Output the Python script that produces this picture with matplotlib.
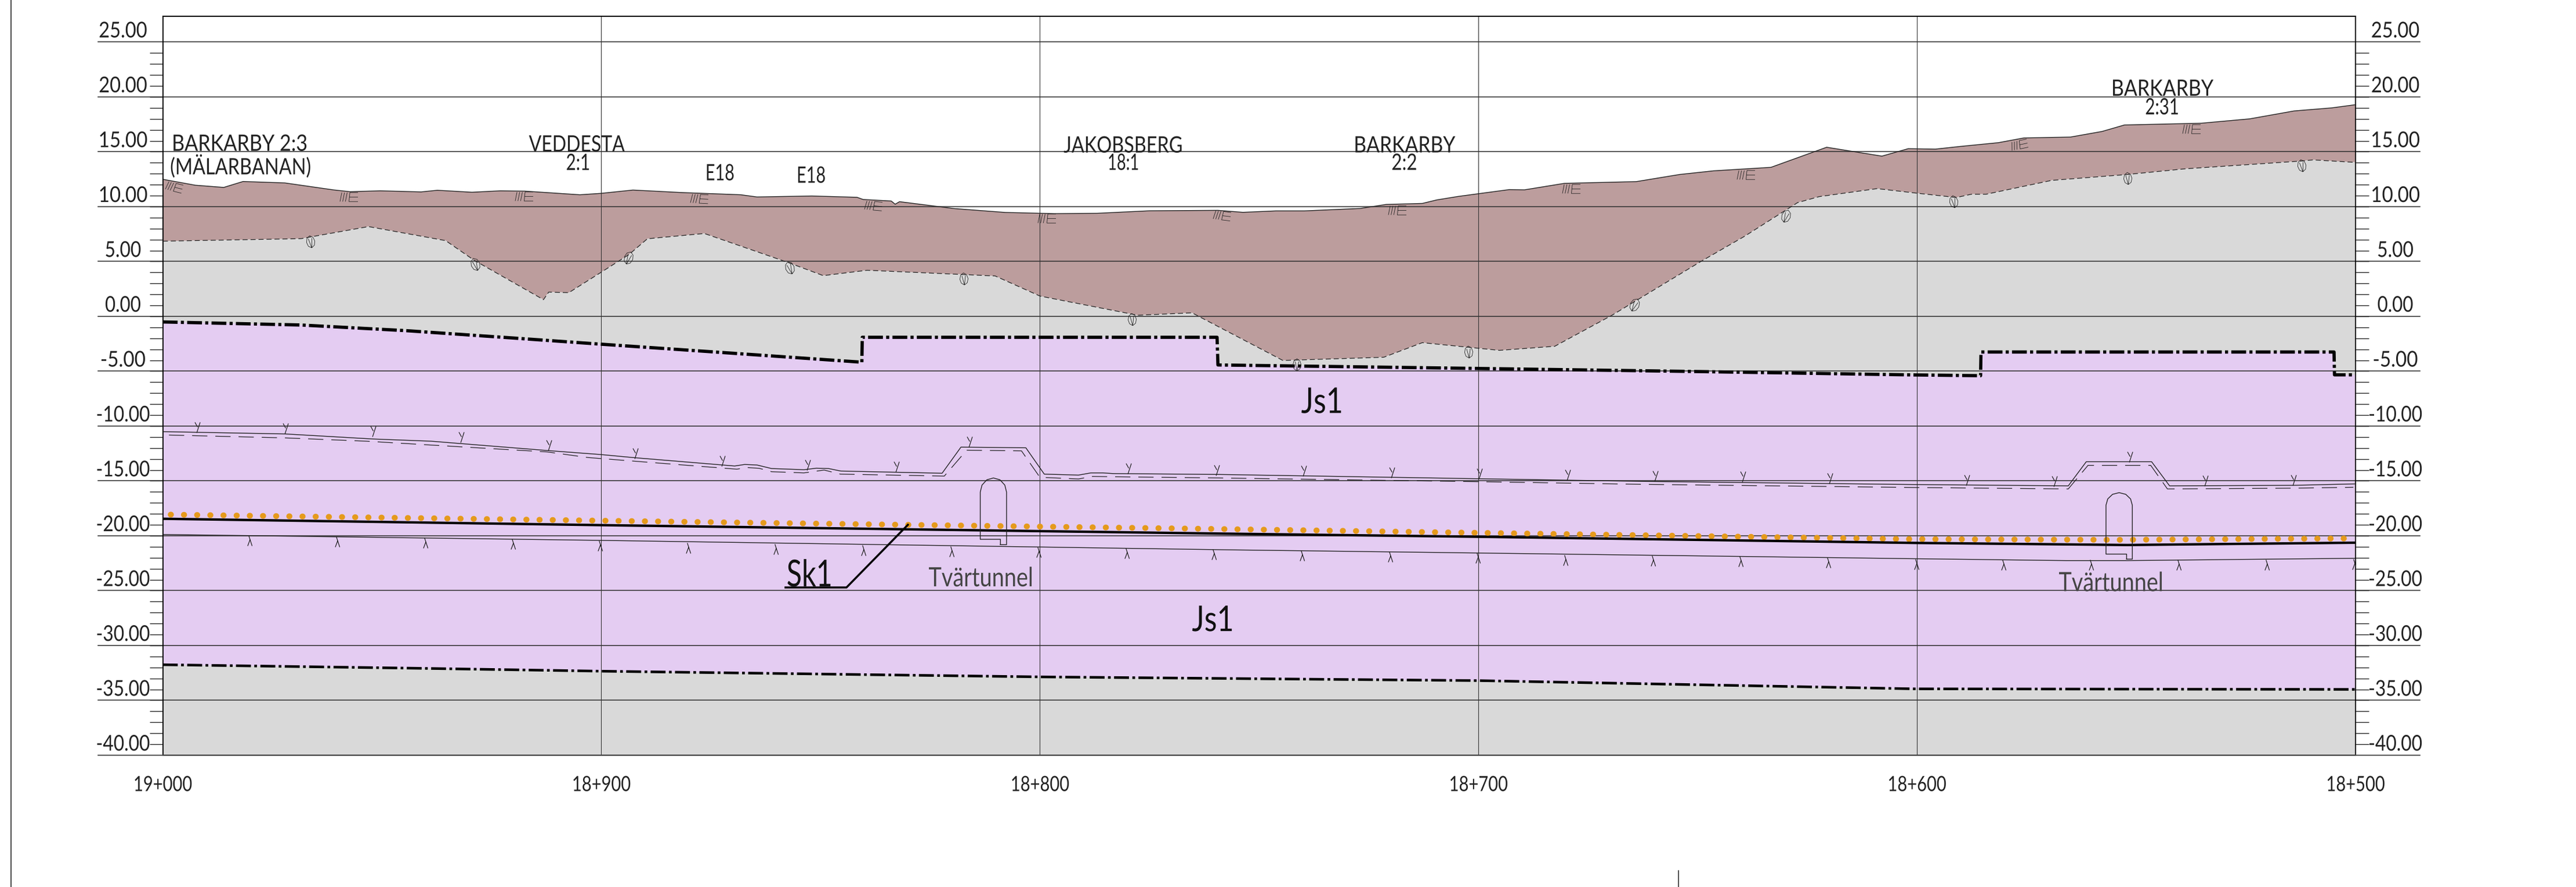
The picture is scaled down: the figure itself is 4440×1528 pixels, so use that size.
import numpy as np
import matplotlib
matplotlib.use("Agg")
import matplotlib.pyplot as plt
from matplotlib.lines import Line2D
from matplotlib.path import Path
from matplotlib.patheffects import AbstractPathEffect
from matplotlib.transforms import Affine2D

plt.rcParams['font.family'] = ['Lato', 'Liberation Sans', 'DejaVu Sans']

# markniva (ground surface)
ground_x = [19000, 18992.6, 18986.1, 18981.7, 18972.2, 18961, 18957.3, 18950.4, 18941.1, 18937.4, 18929.5,
            18923, 18917.4, 18904.9, 18900, 18892.8, 18881.6, 18868.2, 18864.5, 18852, 18841.7, 18840.3,
            18833.9, 18833, 18832, 18819.5, 18807.9, 18796.7, 18787, 18775, 18759.4, 18753.7, 18746.2,
            18739.7, 18727, 18721, 18712.8, 18709.5, 18704.6, 18693, 18689.5, 18680.4, 18664, 18654.1,
            18646.4, 18633.3, 18620.6, 18608, 18602, 18595.8, 18590, 18581.4, 18575.6, 18565, 18557.8,
            18552.7, 18535.2, 18524.1, 18514, 18505.4, 18500]
ground_y = [11.49, 10.95, 10.75, 11.29, 11.16, 10.52, 10.36, 10.44, 10.34, 10.49, 10.31,
            10.44, 10.41, 10.08, 10.21, 10.51, 10.28, 10.08, 9.88, 9.97, 9.85, 9.65,
            9.51, 9.22, 9.45, 8.82, 8.47, 8.36, 8.39, 8.62, 8.66, 8.48, 8.61,
            8.61, 8.83, 9.20, 9.29, 9.61, 9.93, 10.55, 10.53, 11.12, 11.28, 11.93,
            12.26, 12.58, 14.41, 13.6, 14.28, 14.24, 14.49, 14.83, 15.26, 15.34, 15.85,
            16.44, 16.6, 17.0, 17.72, 18.0, 18.29]

# underkant lera (dashed)
clay_x = [19000, 18968.5, 18953.1, 18935.5, 18929, 18913.2, 18912, 18907.4, 18899.8, 18893.7, 18889.5,
          18876.5, 18857.5, 18849.4, 18839.4, 18810.2, 18800, 18777.7, 18765.3, 18759.4, 18744.6,
          18721.6, 18712.8, 18695.2, 18682.6, 18669.5, 18649.2, 18639.3, 18627.2, 18622.3, 18609.1,
          18600.6, 18591, 18587.6, 18584.2, 18569.3, 18552, 18539, 18512.1, 18509.7, 18500]
clay_y = [5.85, 6.08, 7.18, 5.9, 4.11, 0.52, 1.21, 1.16, 3.08, 4.63, 6.07,
          6.55, 3.92, 2.71, 3.2, 2.68, 0.85, -0.9, -0.68, -1.92, -5.02,
          -4.73, -3.40, -4.1, -3.73, -0.89, 4.02, 6.3, 9.37, 9.91, 10.64,
          10.25, 9.83, 10.13, 10.13, 11.39, 11.93, 12.44, 13.16, 13.26, 13.03]

# bergyta Js1, top and bottom boundary
rock_top_x = [19000, 18968.5, 18944.3, 18921, 18900, 18877, 18840.6, 18840.5, 18759.6, 18759.4, 18700.2,
              18651.9, 18600.6, 18585.5, 18585.4, 18504.9, 18504.8, 18500]
rock_top_y = [-1.51, -1.79, -2.31, -2.95, -3.54, -4.17, -5.18, -2.91, -2.91, -5.43, -5.75,
              -6.02, -6.34, -6.41, -4.25, -4.25, -6.33, -6.33]
rock_bot_x = [19000, 18944.3, 18900, 18800, 18700, 18600.6, 18500]
rock_bot_y = [-32.75, -33.06, -33.34, -33.86, -34.2, -34.95, -35.0]

# Sk1 and the dotted zone above it
sk1_x = [19000, 18900, 18759, 18700, 18600.6, 18552, 18500]
sk1_y = [-19.45, -20.03, -20.8, -21.09, -21.65, -21.84, -21.63]
dots_x = [18998.2, 18893, 18761, 18602.6, 18555, 18501]
dots_y = [-19.07, -19.66, -20.37, -21.3, -21.37, -21.24]

# lower thin line
floor_x = [19000, 18900, 18759, 18700, 18600.6, 18566, 18552, 18500]
floor_y = [-20.88, -21.42, -22.27, -22.57, -23.09, -23.26, -23.26, -23.05]

# tunnel roof, solid line and dashed inner line
roof_x = [19000, 18972, 18952, 18938.8, 18912, 18900, 18892.8, 18869.6, 18867.3, 18864.5, 18861.2, 18853.8,
          18851, 18848.2, 18845.4, 18822.3, 18818, 18803.2, 18799, 18791.2, 18788.4, 18785.6, 18783.3,
          18759.3, 18700, 18662.9, 18600.6, 18565.5, 18561.4, 18546.5, 18542.4, 18514, 18500]
roof_y = [-11.51, -11.72, -12.18, -12.38, -13.24, -13.6, -13.87, -14.64, -14.5, -14.55, -14.87, -14.98,
          -14.84, -14.87, -15.1, -15.3, -12.92, -12.98, -15.38, -15.47, -15.27, -15.27, -15.33,
          -15.41, -15.8, -16.04, -16.33, -16.45, -14.25, -14.25, -16.45, -16.4, -16.27]
inner_x = [18998.6, 18972, 18953.6, 18912.3, 18903, 18892.8, 18869.1, 18866.8, 18864, 18861.2, 18853.8, 18849.2,
           18845.5, 18821.8, 18816.7, 18804.2, 18800, 18791.2, 18788, 18783, 18759.3, 18700, 18662.9,
           18600.6, 18565.5, 18561, 18546.7, 18542.9, 18514, 18500.5]
inner_y = [-11.82, -12.08, -12.38, -13.36, -13.87, -14.19, -14.93, -14.78, -14.85, -15.16, -15.27, -15.01,
           -15.38, -15.56, -13.2, -13.26, -15.67, -15.82, -15.59, -15.62, -15.73, -16.07, -16.31,
           -16.6, -16.73, -14.58, -14.58, -16.73, -16.66, -16.58]

# tvartunnlar
tunnel1_x = [18809.0, 18809.0, 18813.6, 18813.6, 18813.2, 18812.1, 18810.6, 18809.1, 18808.0, 18807.6, 18807.6, 18809.0]
tunnel1_y = [-21.81, -21.32, -21.32, -17.02, -16.38, -15.9, -15.73, -15.9, -16.38, -17.02, -21.81, -21.81]
tunnel2_x = [18552.2, 18552.2, 18556.9, 18556.9, 18556.5, 18555.4, 18553.9, 18552.4, 18551.3, 18550.9, 18550.9, 18552.2]
tunnel2_y = [-23.13, -22.67, -22.67, -18.21, -17.64, -17.22, -17.07, -17.22, -17.64, -18.21, -23.13, -23.13]

# Sk1 leader
leader_x = [18858, 18844.1, 18830.1]
leader_y = [-25.71, -25.71, -20.0]

# soil and rock symbols
iie_x = [18997.4, 18957.6, 18917.7, 18877.7, 18838.0, 18798.4, 18758.5, 18718.6, 18678.9, 18639, 18576.7, 18537.4]
iie_y = [10.77, 9.88, 9.93, 9.74, 9.08, 7.93, 8.18, 8.69, 10.64, 11.93, 14.67, 16.11]
iie_tilt = [-14, 0, 0, -3, -5, 0, -7, 0, 0, 0, 12, 0]
leaf_x = [18966.4, 18928.8, 18893.9, 18857.1, 18817.4, 18779, 18741.4, 18702.3, 18664.5, 18629.9, 18591.7, 18552, 18512.3]
leaf_y = [5.82, 3.77, 4.35, 3.43, 2.45, -1.25, -5.37, -4.21, 0.03, 8.15, 9.47, 11.6, 12.75]
leaf_tilt = [10, 20, -20, 20, 5, 5, 0, 5, -25, -20, 10, 5, 10]
y_sym_x = [18992.2, 18972, 18952, 18932, 18912, 18892.3, 18872.4, 18853, 18832.7, 18816, 18779.8, 18759.7, 18739.9,
           18719.8, 18699.8, 18679.7, 18659.7, 18639.7, 18619.8, 18588.7, 18568.7, 18551.4, 18534.2, 18514.2]
y_sym_y = [-11.1, -11.2, -11.5, -12, -12.77, -13.49, -14.15, -14.53, -14.73, -12.43, -14.87, -15.01, -15.09,
           -15.23, -15.36, -15.47, -15.55, -15.63, -15.74, -15.93, -16.03, -13.8, -16.0, -15.9]
lam_x = [18980.2, 18960.3, 18940.2, 18920.2, 18900.3, 18880.2, 18860.2, 18840.2, 18820.2, 18800.3, 18780.2, 18760.3,
         18740.2, 18720.2, 18700.2, 18680.2, 18660.2, 18640.3, 18620.3, 18600.2, 18580.3, 18560.3, 18540.3, 18520.3, 18500.3]
lam_y = [-21.45, -21.55, -21.66, -21.76, -21.92, -22.1, -22.21, -22.32, -22.41, -22.47, -22.61, -22.7,
         -22.81, -22.92, -23.03, -23.22, -23.25, -23.35, -23.46, -23.62, -23.65, -23.65, -23.65, -23.65, -23.58]

# axis labels
chainages = [19000, 18900, 18800, 18700, 18600, 18500]
chainage_labels = ['19+000', '18+900', '18+800', '18+700', '18+600', '18+500']
level_ticks = [25, 20, 15, 10, 5, 0, -5, -10, -15, -20, -25, -30, -35, -40]
grid_levels = [24, 19, 14, 9, 4, -1, -6, -11, -16, -21, -26, -31, -36, -41]

# place names
names = ['BARKARBY 2:3', '(MÄLARBANAN)', 'BARKARBY', '2:31', 'VEDDESTA', '2:1', 'E18', 'E18', 'JAKOBSBERG', '18:1', 'BARKARBY', '2:2']
names_x = [18982.5, 18982.3, 18544.1, 18544.1, 18905.6, 18905.3, 18873, 18852.2, 18781, 18781, 18716.9, 18716.9]
names_y = [14.83, 12.78, 19.84, 18.15, 14.76, 13.08, 12.14, 11.92, 14.67, 13.09, 14.68, 13.09]
names_w = [229, 240, 173, 55, 165, 38, 46, 46, 203, 50, 172, 41]


class FitWidth(AbstractPathEffect):
    # squeezes a text to the narrow CAD lettering, the string stays a normal Text
    def __init__(self, width, dy=-3):
        self.width = width
        self.dy = dy

    def draw_path(self, renderer, gc, tpath, affine, rgbFace=None):
        box = tpath.get_extents(affine)
        cx = (box.x0 + box.x1) / 2
        fit = Affine2D().translate(-cx, self.dy).scale(self.width / box.width, 1).translate(cx, 0)
        renderer.draw_path(gc, tpath, affine + fit, rgbFace)


def seg_path(segs):
    verts = []
    codes = []
    for s in segs:
        for i, p in enumerate(s):
            verts.append(p)
            codes.append(Path.MOVETO if i == 0 else Path.LINETO)
    return Path(verts, codes)


def level_width(lev):
    if lev == -5:
        return 75
    if lev < 0:
        return 90
    return 81 if lev >= 10 else 60


iie_mark = seg_path([[(-1, -.5), (-.8, .5)], [(-.7, -.5), (-.5, .5)], [(-.4, -.5), (-.2, .5)],
                     [(.1, .5), (0, -.5), (1, -.5)], [(.05, 0), (1, 0)], [(.1, .5), (1, .5)]])
leaf_mark = seg_path([[(0, -1), (.5, -.65), (.68, 0), (.5, .65), (0, 1), (-.5, .65), (-.68, 0), (-.5, -.65), (0, -1)],
                      [(0, -1), (-.3, .55)], [(0, -1), (.3, .55)]])
y_mark = seg_path([[(-.5, 1), (0, .1)], [(.5, 1), (-.15, -1)]])
lam_mark = seg_path([[(-.2, 1), (.45, -1)], [(.05, .2), (-.4, -1)]])

fig = plt.figure(figsize=(44.4, 15.28), dpi=100)
ax = fig.add_axes([280.6/4440, (1528-1301)/1528, 3779.4/4440, 1273/1528])
ax.set_xlim(19000, 18500)
ax.set_ylim(-41, 26.35)

# fills
ax.fill(ground_x + clay_x[::-1], ground_y + clay_y[::-1], color='#bc9d9d', lw=0, zorder=1)
ax.fill(clay_x + [18500, 19000], clay_y + [-41, -41], color='#d9d9d9', lw=0, zorder=1)
ax.fill(rock_top_x + rock_bot_x[::-1], rock_top_y + rock_bot_y[::-1], color='#e4ccf2', lw=0, zorder=1.5)

# grid
for lev in grid_levels:
    ax.axhline(lev, xmin=-0.0295, xmax=1.0294, color='#333333', lw=1.15, clip_on=False, zorder=2)
for c in chainages[1:-1]:
    ax.axvline(c, color='#333333', lw=0.8, zorder=2)

# boundaries
ax.plot(ground_x, ground_y, color='#222222', lw=1.0, zorder=3)
ax.plot(clay_x, clay_y, color='#222222', lw=0.9, ls=(0, (7, 4)), zorder=3)
ax.plot(rock_top_x, rock_top_y, color='black', lw=4.0, ls=(0, (4.6, 1.0, 0.96, 1.0)), zorder=4)
ax.plot(rock_bot_x, rock_bot_y, color='black', lw=3.2, ls=(0, (5.8, 1.3, 1.06, 1.3)), zorder=4)
ax.plot(roof_x, roof_y, color='#222222', lw=1.0, zorder=3)
ax.plot(inner_x, inner_y, color='#222222', lw=0.9, ls=(0, (21, 11)), zorder=3)
ax.plot(floor_x, floor_y, color='#222222', lw=1.0, zorder=3)
ax.plot(dots_x, dots_y, color='#e59a1c', lw=7.2, ls=(0, (0.05, 2.22)), dash_capstyle='round', zorder=3)
ax.plot(sk1_x, sk1_y, color='black', lw=3.0, zorder=4)
ax.plot(tunnel1_x, tunnel1_y, color='#222222', lw=1.0, zorder=5)
ax.plot(tunnel2_x, tunnel2_y, color='#222222', lw=1.0, zorder=5)
ax.plot(leader_x, leader_y, color='black', lw=2.5, zorder=5)

# symbols
for x, y, t in zip(iie_x, iie_y, iie_tilt):
    ax.plot([x], [y], ls='', marker=iie_mark.transformed(Affine2D().rotate_deg(t)), ms=22.3, mfc='none',
            mec='#222222', mew=0.6, zorder=5)
for x, y, t in zip(leaf_x, leaf_y, leaf_tilt):
    ax.plot([x], [y], ls='', marker=leaf_mark.transformed(Affine2D().rotate_deg(t)), ms=15, mfc='none',
            mec='#222222', mew=0.6, zorder=5)
ax.plot(y_sym_x, y_sym_y, ls='', marker=y_mark, ms=13, mfc='none', mec='#222222', mew=0.9, zorder=5)
ax.plot(lam_x, lam_y, ls='', marker=lam_mark, ms=13, mfc='none', mec='#222222', mew=0.9, zorder=5)

# ticks
ax.set_yticks(np.arange(-40, 24))
ax.set_yticklabels([])
ax.tick_params(axis='y', left=True, right=True, length=16.6, width=1.0, color='#222222', direction='out')
ax.set_xticks(chainages)
ax.set_xticklabels(chainage_labels, fontsize=26, color='#222222')
ax.tick_params(axis='x', length=0, pad=25)
for lab in ax.get_xticklabels():
    lab.set_path_effects([FitWidth(98, dy=0)])
for side in ['left', 'right', 'top']:
    ax.spines[side].set_linewidth(1.4)
ax.spines['bottom'].set_linewidth(1.6)
ax.spines['bottom'].set_color('#444444')

ytr = ax.get_yaxis_transform()
for lev in level_ticks:
    txt = '%.2f' % lev
    for xpos in (-0.01815, 1.01815):
        t = ax.text(xpos, lev + 0.16, txt, transform=ytr, ha='center', va='center', fontsize=27, color='#222222')
        t.set_path_effects([FitWidth(level_width(lev))])

# labels
for s, x, y, w in zip(names, names_x, names_y, names_w):
    t = ax.text(x, y, s, fontsize=28, ha='center', va='center', color='#222222', zorder=6)
    t.set_path_effects([FitWidth(w)])
for s, x, y, fs, w, col in zip(['Js1', 'Js1', 'Sk1', 'Tvärtunnel', 'Tvärtunnel'],
                               [18735.6, 18760.5, 18852.5, 18813.4, 18555.7],
                               [-8.72, -28.6, -24.5, -24.76, -25.2],
                               [44, 44, 46, 33, 33],
                               [68, 68, 74, 177, 177],
                               ['#111111', '#111111', '#111111', '#444444', '#444444']):
    t = ax.text(x, y, s, fontsize=fs, ha='center', va='center', color=col, zorder=6)
    t.set_path_effects([FitWidth(w)])

# sheet frame bits
fig.add_artist(Line2D([19/4440, 19/4440], [0, 1], color='#444444', lw=1.4))
fig.add_artist(Line2D([2893/4440, 2893/4440], [0, 28/1528], color='#333333', lw=1.2))

fig.savefig('out.png', dpi=100)
